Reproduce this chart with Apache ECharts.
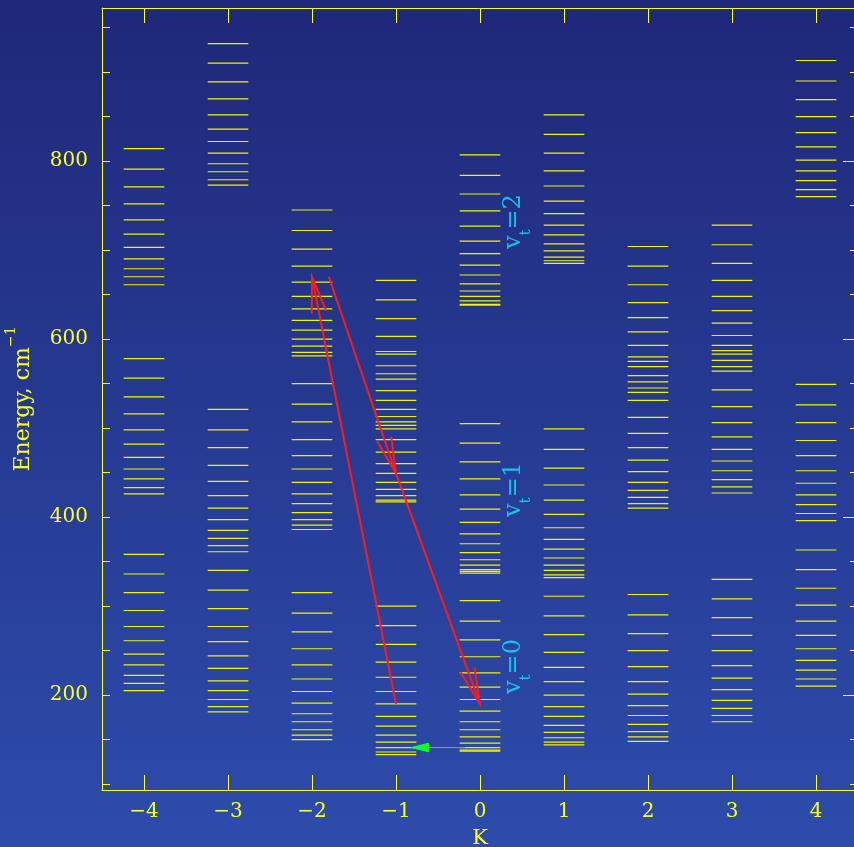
<!DOCTYPE html>
<html>
<head>
<meta charset="utf-8">
<style>
  html, body { margin: 0; padding: 0; background: #25368f; }
  #chart { width: 854px; height: 847px; }
</style>
<script src="https://cdn.jsdelivr.net/npm/echarts@6/dist/echarts.min.js"></script>
</head>
<body>
<div id="chart"></div>
<script>
// K columns
var kList = [-4, -3, -2, -1, 0, 1, 2, 3, 4];
// energy levels, cm-1 (vt=2, vt=1, vt=0 groups)
var levelsKm4 = [814, 791, 771, 752, 734, 718, 703, 690, 679, 670, 661,
  578, 556, 535, 516, 498, 482, 467, 454, 443, 433, 426,
  358, 336, 315, 295, 277, 261, 246, 234, 222, 213, 205];
var levelsKm3 = [932, 910, 889, 870, 852, 836, 822, 809, 797, 788, 779, 773,
  521, 498, 478, 458, 440, 424, 410, 397, 385, 376, 368, 361,
  340, 318, 297, 277, 260, 244, 230, 216, 205, 195, 187, 181];
var levelsKm2 = [745, 722, 701, 682, 664, 648, 634, 621, 610, 600, 592, 585, 581,
  550, 527, 507, 487, 469, 454, 439, 426, 415, 405, 397, 391, 386,
  315, 292, 271, 252, 234, 218, 204, 191, 179, 170, 161, 155, 150];
var levelsKm1 = [666, 644, 623, 603, 586, 583, 570, 561, 555, 542, 531, 521, 513,
  507, 503, 499, 487, 473, 460, 449, 439, 431, 424, 419, 417,
  300, 278, 257, 237, 220, 204, 190, 176, 165, 155, 147, 141, 136, 133];
var levelsK0 = [807, 784, 763, 744, 727, 710, 696, 683, 672, 662, 654, 648, 643, 639, 638,
  505, 483, 462, 443, 425, 409, 394, 381, 370, 360, 352, 346, 341, 339, 337,
  306, 283, 262, 243, 225, 209, 195, 182, 170, 161, 153, 146, 141, 138, 137];
var levelsK1 = [852, 830, 809, 789, 772, 755, 741, 728, 717, 707, 699, 692, 688, 685,
  499, 476, 455, 436, 419, 403, 388, 375, 364, 354, 346, 340, 335, 332,
  311, 289, 268, 248, 231, 215, 200, 187, 176, 166, 158, 152, 147, 144];
var levelsK2 = [704, 682, 661, 641, 624, 608, 593, 580, 575, 569, 559, 552, 545,
  540, 531, 512, 494, 478, 464, 451, 439, 430, 422, 415, 410,
  313, 290, 269, 250, 232, 215, 201, 188, 177, 167, 159, 153, 148];
var levelsK3 = [728, 706, 685, 666, 648, 632, 618, 604, 593, 587, 583, 576, 569,
  564, 543, 524, 506, 490, 476, 463, 452, 442, 434, 427,
  330, 308, 287, 267, 250, 233, 219, 206, 194, 185, 177, 170];
var levelsK4 = [913, 890, 869, 850, 832, 816, 801, 789, 778, 768, 760,
  549, 526, 506, 486, 469, 452, 438, 425, 414, 404, 396,
  363, 341, 320, 301, 283, 267, 252, 239, 228, 218, 210];

// transitions [K from, E from, K to, E to]
var redArrows = [[-1, 190, -2, 670], [-1.8, 670, -1, 449], [-1, 449, 0, 190]];
var greenArrows = [[-0.18, 141, -0.82, 141]];

// vt labels [K, E, vt]
var vtLabels = [[0.40, 732, '2'], [0.40, 431, '1'], [0.40, 232, '0']];

var yTicks = [100, 150, 200, 250, 300, 350, 400, 450, 500, 550, 600, 650, 700, 750, 800, 850, 900, 950];
var yLabels = [200, 400, 600, 800];

var allLevels = [levelsKm4, levelsKm3, levelsKm2, levelsKm1, levelsK0, levelsK1, levelsK2, levelsK3, levelsK4];
var levelData = [];
kList.forEach(function (k, i) {
  allLevels[i].forEach(function (e) { levelData.push([k, e]); });
});

var YEL = '#ffff20';
var FONT = 'DejaVu Serif';

function arrowShape(p1, p2, len, ang) {
  var dx = p1[0] - p2[0], dy = p1[1] - p2[1];
  var d = Math.sqrt(dx * dx + dy * dy);
  dx /= d; dy /= d;
  var c = Math.cos(ang), s = Math.sin(ang);
  var w1 = [p2[0] + len * (dx * c - dy * s), p2[1] + len * (dx * s + dy * c)];
  var w2 = [p2[0] + len * (dx * c + dy * s), p2[1] + len * (-dx * s + dy * c)];
  return [w1, w2];
}

function frameAxis(extra) {
  var base = {
    axisLine: { show: true, onZero: false, lineStyle: { color: YEL, width: 1 } },
    axisLabel: { show: false },
    splitLine: { show: false }
  };
  return Object.assign(base, extra);
}

var chart = echarts.init(document.getElementById('chart'));
chart.setOption({
  backgroundColor: new echarts.graphic.LinearGradient(0, 0, 0, 1, [
    { offset: 0, color: '#1f287a' },
    { offset: 1, color: '#2d4cab' }
  ]),
  animation: false,
  grid: { left: 102, right: -4, top: 8, bottom: 57, outerBoundsMode: 'none', containLabel: false },
  xAxis: [frameAxis({
    type: 'value', min: -4.5, max: 4.5, position: 'bottom',
    name: 'K', nameLocation: 'middle', nameGap: 38,
    nameTextStyle: { color: YEL, fontFamily: FONT, fontSize: 21 },
    axisTick: { show: true, inside: true, length: 15, customValues: kList, lineStyle: { color: YEL } },
    axisLabel: {
      customValues: kList, color: YEL, fontFamily: FONT, fontSize: 20, margin: 12,
      formatter: function (v) { return v < 0 ? '\u2212' + Math.abs(v) : String(v); }
    }
  }), frameAxis({
    type: 'value', min: -4.5, max: 4.5, position: 'top',
    axisTick: { show: true, inside: true, length: 15, customValues: kList, lineStyle: { color: YEL } }
  })],
  yAxis: [frameAxis({
    type: 'value', min: 93.3, max: 972, position: 'left',
    name: '{a|Energy, cm}{s|\u22121}', nameLocation: 'middle', nameGap: 68, nameRotate: 90,
    nameTextStyle: {
      color: YEL, fontFamily: FONT, fontSize: 22,
      rich: {
        a: { color: YEL, fontFamily: FONT, fontSize: 22, lineHeight: 30, verticalAlign: 'bottom' },
        s: { color: YEL, fontFamily: FONT, fontSize: 14, lineHeight: 30, verticalAlign: 'top' }
      }
    },
    axisTick: { show: true, inside: true, length: 8, customValues: yTicks, lineStyle: { color: YEL } },
    axisLabel: { customValues: yLabels, color: YEL, fontFamily: FONT, fontSize: 20, margin: 14 }
  }), frameAxis({
    type: 'value', min: 93.3, max: 972, position: 'right',
    axisTick: { show: true, inside: true, length: 8, customValues: yTicks, lineStyle: { color: YEL } }
  }), frameAxis({
    type: 'value', min: 93.3, max: 972, position: 'right',
    axisTick: { show: true, inside: true, length: 15, customValues: yLabels, lineStyle: { color: YEL } }
  })],
  series: [{
    type: 'custom',
    name: 'levels',
    coordinateSystem: 'cartesian2d',
    data: levelData,
    silent: true,
    renderItem: function (params, api) {
      var k = api.value(0), e = api.value(1);
      var a = api.coord([k - 0.242, e]);
      var b = api.coord([k + 0.242, e]);
      return {
        type: 'line',
        shape: { x1: a[0], y1: a[1], x2: b[0], y2: b[1] },
        style: { stroke: '#f4f400', lineWidth: 1.2 }
      };
    }
  }, {
    type: 'custom',
    name: 'red',
    coordinateSystem: 'cartesian2d',
    data: redArrows,
    silent: true,
    encode: { x: [0, 2], y: [1, 3] },
    renderItem: function (params, api) {
      var p1 = api.coord([api.value(0), api.value(1)]);
      var p2 = api.coord([api.value(2), api.value(3)]);
      var w = arrowShape(p1, p2, 37, 0.2);
      return {
        type: 'group',
        children: [{
          type: 'line',
          shape: { x1: p1[0], y1: p1[1], x2: p2[0], y2: p2[1] },
          style: { stroke: '#ff1a1a', lineWidth: 2 }
        }, {
          type: 'polyline',
          shape: { points: [w[0], p2, w[1]] },
          style: { stroke: '#ff1a1a', lineWidth: 2, fill: null }
        }]
      };
    }
  }, {
    type: 'custom',
    name: 'green',
    coordinateSystem: 'cartesian2d',
    data: greenArrows,
    silent: true,
    encode: { x: [0, 2], y: [1, 3] },
    renderItem: function (params, api) {
      var p1 = api.coord([api.value(0), api.value(1)]);
      var p2 = api.coord([api.value(2), api.value(3)]);
      var w = arrowShape(p1, p2, 18, 0.24);
      return {
        type: 'group',
        children: [{
          type: 'line',
          shape: { x1: p1[0], y1: p1[1], x2: p2[0], y2: p2[1] },
          style: { stroke: '#20dd50', lineWidth: 1 }
        }, {
          type: 'polygon',
          shape: { points: [w[0], p2, w[1]] },
          style: { fill: '#10ff30', stroke: '#10ff30', lineWidth: 1 }
        }]
      };
    }
  }, {
    type: 'scatter',
    name: 'vt',
    data: vtLabels,
    symbolSize: 0,
    silent: true,
    label: {
      show: true, position: 'inside', rotate: 90,
      formatter: function (p) { return '{v|v}{s|t}{v|=' + p.value[2] + '}'; },
      rich: {
        v: { color: '#10e4ff', fontFamily: FONT, fontSize: 24, lineHeight: 40, verticalAlign: 'middle' },
        s: { color: '#10e4ff', fontFamily: FONT, fontSize: 15, lineHeight: 40, verticalAlign: 'bottom' }
      }
    }
  }]
});
</script>
</body>
</html>
